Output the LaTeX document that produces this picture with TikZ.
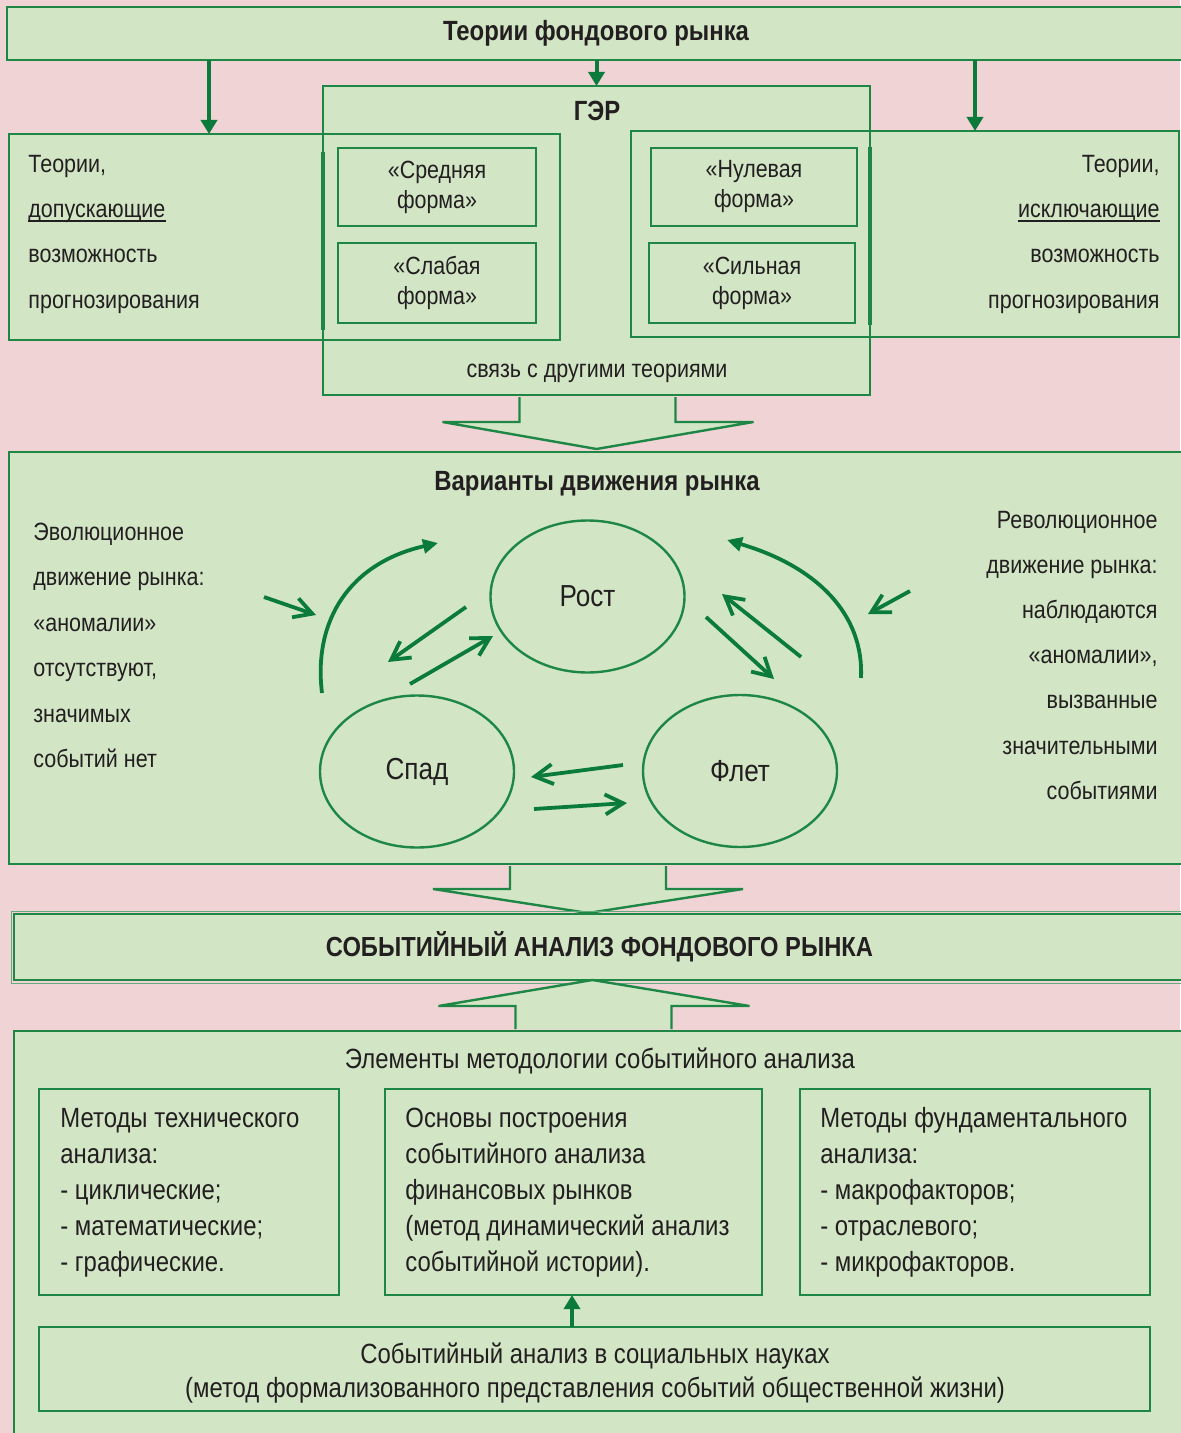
\documentclass[tikz,border=0pt]{standalone}
\usepackage{fontspec}
\setmainfont{Liberation Sans}[FakeStretch=0.86]
\usetikzlibrary{arrows.meta, calc, shapes.geometric}

\definecolor{fonrose}{HTML}{F0D3D5}
\definecolor{boxfill}{HTML}{D2E6C6}
\definecolor{boxline}{HTML}{1E8746}
\definecolor{arrline}{HTML}{0B7B3B}
\definecolor{textcol}{HTML}{231F20}

\tikzset{
  box/.style={draw=boxline, fill=boxfill, line width=1.2pt, inner sep=0pt,
    outer sep=0pt, anchor=north west, text=textcol},
  formbox/.style={box, line width=0.9pt, align=center,
    font=\fontsize{12.45}{15}\selectfont},
  lbl/.style={inner sep=0pt, text=textcol, font=\fontsize{12.5}{14}\selectfont},
  boldlbl/.style={lbl, font=\bfseries\fontsize{13.9}{15}\selectfont},
  lowlbl/.style={lbl, font=\fontsize{13.9}{15}\selectfont},
  phase/.style={ellipse, draw=boxline, line width=1.2pt, inner sep=0pt,
    minimum width=97pt, minimum height=76pt, text=textcol,
    font=\fontsize{15.2}{17}\selectfont},
  arr/.style={draw=arrline, line width=2pt, -{Triangle[length=7pt,width=8pt]}},
  barb/.style={draw=arrline, line width=1.9pt, -{Straight Barb[length=9pt,width=10pt]}},
  curv/.style={draw=arrline, line width=1.9pt, -{Triangle[length=7.5pt,width=7pt]}},
  bigarr/.style={draw=boxline, fill=boxfill, line width=1.2pt},
}

\begin{document}
\begin{tikzpicture}[x=0.5pt, y=-0.5pt]
\fill[fonrose] (0,0) rectangle (1180,1433);
\useasboundingbox (0,0) rectangle (1180,1433);
					%%
\node[box, minimum width=589pt, minimum height=26.5pt,
  font=\bfseries\fontsize{13.9}{15}\selectfont] (top) at (7,7) {Теории фондового рынка};

\node[box, minimum width=273.5pt, minimum height=154.5pt] (ger) at (323,86) {};
\node[box, minimum width=275.5pt, minimum height=103pt] (lft) at (9,134) {};
\node[box, minimum width=274pt, minimum height=103pt] (rgt) at (631,131) {};
\draw[boxline, line width=1.2pt] (ger.north west) rectangle (ger.south east);
\draw[boxline, line width=2.3pt] (323,152) -- (323,330);
\draw[boxline, line width=2.3pt] (870,147) -- (870,325);

\node[formbox, minimum width=99pt, minimum height=39pt] (sred) at (338,148) {«Средняя\\форма»};
\node[formbox, minimum width=99pt, minimum height=40pt] (slab) at (338,243) {«Слабая\\форма»};
\node[formbox, minimum width=103pt, minimum height=39pt] (nul) at (651,148) {«Нулевая\\форма»};
\node[formbox, minimum width=103pt, minimum height=40pt] (sil) at (649,243) {«Сильная\\форма»};

\node[boldlbl, anchor=base] (gerlbl) at (597,121) {ГЭР};
\node[lbl, anchor=base] (svaz) at (597,377) {связь с другими теориями};

\foreach \t [count=\i] in {{Теории,}, {допускающие}, {возможность}, {прогнозирования}}
  \node[lbl, anchor=base west] (lt\i) at (28,{173+45*(\i-1)}) {\t};
\foreach \t [count=\i] in {{Теории,}, {исключающие}, {возможность}, {прогнозирования}}
  \node[lbl, anchor=base east] (rt\i) at (1160,{173+45*(\i-1)}) {\t};
\draw[textcol, line width=1pt] ([yshift=-1.6pt]lt2.base west) -- ([yshift=-1.6pt]lt2.base east);
\draw[textcol, line width=1pt] ([yshift=-1.6pt]rt2.base west) -- ([yshift=-1.6pt]rt2.base east);

\coordinate (a1) at (209,60);
\coordinate (a3) at (975,60);
\draw[arr] (a1) -- (a1 |- lft.north);
\draw[arr] (ger.north |- top.south) -- (ger.north);
\draw[arr] (a3) -- (a3 |- rgt.north);

\draw[bigarr] ($(ger.south)+(-77,2)$) -- ++(0,25) -- ++(-77,0) -- ++(154,27)
  -- ++(157,-27) -- ++(-78,0) -- ++(0,-25);

%% Варианты движения рынка
\node[box, minimum width=588pt, minimum height=206pt] (mid) at (9,452) {};
\node[boldlbl, anchor=base] (varlbl) at (597,490) {Варианты движения рынка};

\foreach \t [count=\i] in {{Эволюционное}, {движение рынка:}, {«аномалии»},
  {отсутствуют,}, {значимых}, {событий нет}}
  \node[lbl, anchor=base west] (ev\i) at (33,{540+45.5*(\i-1)}) {\t};
\foreach \t [count=\i] in {{Революционное}, {движение рынка:}, {наблюдаются},
  {«аномалии»,}, {вызванные}, {значительными}, {событиями}}
  \node[lbl, anchor=base east] (rv\i) at (1158,{528+45.2*(\i-1)}) {\t};

\node[phase] (rost) at (587.5,596.5) {Рост};
\node[phase] (spad) at (417,771.5) {Спад};
\node[phase] (flet) at (740,771) {Флет};

\coordinate (rs1) at (466,607); \coordinate (rs2) at (388,662);
\coordinate (sr1) at (410,684); \coordinate (sr2) at (493,636);
\coordinate (fr1) at (801,657); \coordinate (fr2) at (722,594);
\coordinate (rf1) at (706,617); \coordinate (rf2) at (774,679);
\coordinate (fs1) at (623,765); \coordinate (fs2) at (531,777);
\coordinate (sf1) at (534,809); \coordinate (sf2) at (627,803);
\coordinate (ep1) at (264,597); \coordinate (ep2) at (316,615);
\coordinate (rp1) at (910,591); \coordinate (rp2) at (868,614);
\coordinate (la1) at (322,693); \coordinate (la2) at (438,543);
\coordinate (ra1) at (861,678); \coordinate (ra2) at (727,540);

\foreach \a/\b in {rs1/rs2, sr1/sr2, fr1/fr2, rf1/rf2, fs1/fs2, sf1/sf2, ep1/ep2, rp1/rp2}
  \draw[barb] (\a) -- (\b);
\draw[curv] (la1) .. controls (313,620) and (350,563) .. (la2);
\draw[curv] (ra1) .. controls (864,615) and (818,567) .. (ra2);

\draw[bigarr] ($(mid.south)+(-87,2)$) -- ++(0,23) -- ++(-77,0) -- ++(155,24)
  -- ++(155,-24) -- ++(-77,0) -- ++(0,-23);

%% Событийный анализ
\node[box, line width=1.4pt, minimum width=585.5pt, minimum height=33pt,
  font=\bfseries\fontsize{13.8}{16}\selectfont] (sob) at (14,914) {СОБЫТИЙНЫЙ АНАЛИЗ ФОНДОВОГО РЫНКА};
\draw[boxline!70, line width=0.5pt] ([shift={(-3,-3)}]sob.north east) -- ([shift={(-3,-3)}]sob.north west)
  -- ([shift={(-3,3)}]sob.south west) -- ([shift={(-3,3)}]sob.south east);

\node[box, minimum width=585.5pt, minimum height=210pt] (bot) at (14,1031) {};
\draw[bigarr] ($(bot.north)+(-84,-2)$) -- ++(0,-23) -- ++(-77,0) -- ++(154,-26)
  -- ++(157,26) -- ++(-78,0) -- ++(0,23);

\node[lowlbl, anchor=base] (elem) at (600,1068) {Элементы методологии событийного анализа};

\node[box, line width=1.1pt, minimum width=150pt, minimum height=103pt] (tech) at (39,1089) {};
\node[box, line width=1.1pt, minimum width=188.5pt, minimum height=103pt] (osn) at (385,1089) {};
\node[box, line width=1.1pt, minimum width=175pt, minimum height=103pt] (fund) at (800,1089) {};

\foreach \t [count=\i] in {{Методы технического}, {анализа:}, {- циклические;},
  {- математические;}, {- графические.}}
  \node[lowlbl, anchor=base west] (te\i) at (60,{1127+36.2*(\i-1)}) {\t};
\foreach \t [count=\i] in {{Основы построения}, {событийного анализа}, {финансовых рынков},
  {(метод динамический анализ}, {событийной истории).}}
  \node[lowlbl, anchor=base west] (os\i) at (405,{1127+36.2*(\i-1)}) {\t};
\foreach \t [count=\i] in {{Методы фундаментального}, {анализа:}, {- макрофакторов;},
  {- отраслевого;}, {- микрофакторов.}}
  \node[lowlbl, anchor=base west] (fu\i) at (820,{1127+36.2*(\i-1)}) {\t};

\node[box, line width=1.1pt, minimum width=555.5pt, minimum height=42pt] (soc) at (39,1327) {};
\node[lowlbl, anchor=base] (soc1) at (595,1363) {Событийный анализ в социальных науках};
\node[lowlbl, anchor=base] (soc2) at (595,1397) {(метод формализованного представления событий общественной жизни)};

\coordinate (sa) at (572,1327);
\draw[arr] (sa) -- (sa |- osn.south);
				\end{tikzpicture}
\end{document}
